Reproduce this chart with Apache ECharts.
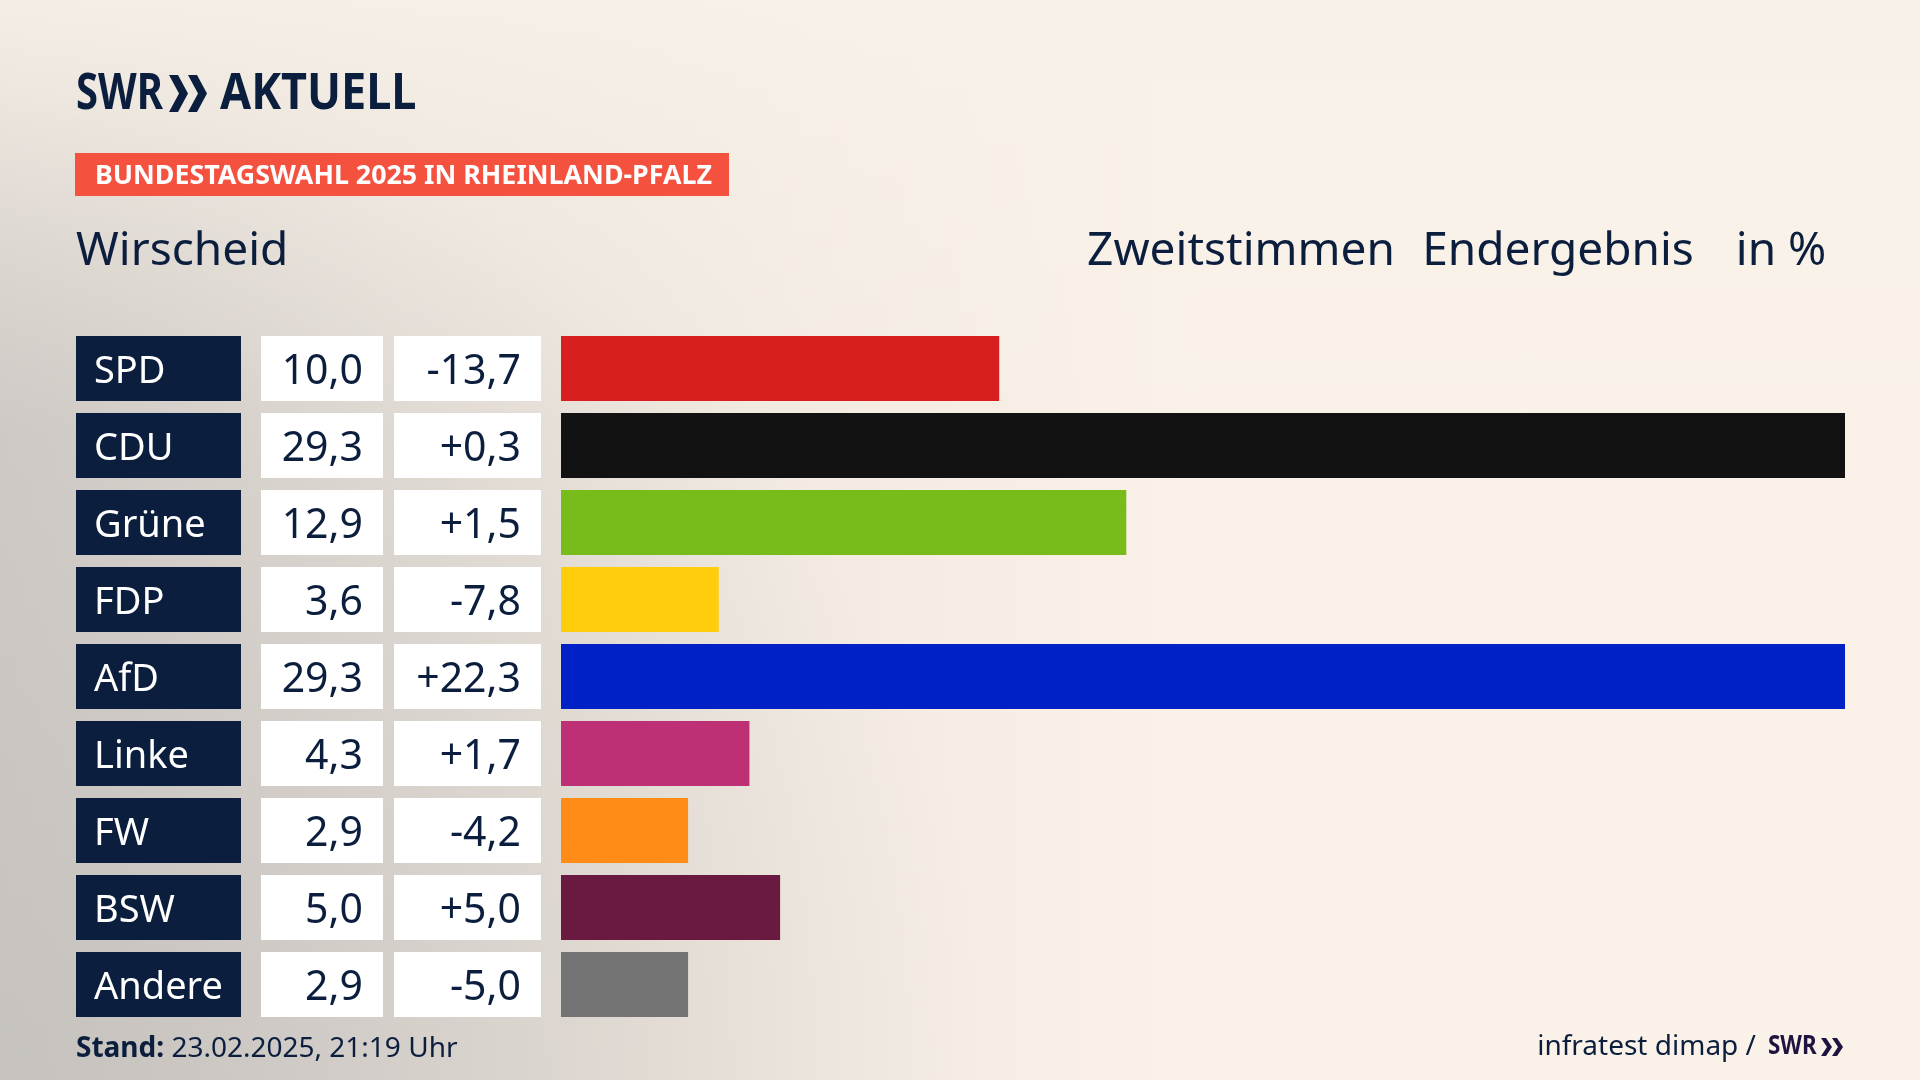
<!DOCTYPE html>
<html>
<head>
<meta charset="utf-8">
<script src="https://cdn.jsdelivr.net/npm/echarts@6/dist/echarts.min.js"></script>
<style>
html,body{margin:0;padding:0;width:1920px;height:1080px;overflow:hidden;}
body{
  background:
    radial-gradient(circle at 0% 100%, rgba(196,192,188,0.85) 0%, rgba(196,192,188,0) 45%),
    linear-gradient(to bottom, rgba(248,241,232,0.9) 0%, rgba(248,241,232,0) 40%),
    linear-gradient(to right, #d2cdc8 0%, #e4ded7 20%, #f3ebe1 42%, #faf2e8 62%, #faf2e8 100%);
}
#chart{width:1920px;height:1080px;}
</style>
</head>
<body>
<div id="chart"></div>
<script>
const parties = ['SPD', 'CDU', 'Grüne', 'FDP', 'AfD', 'Linke', 'FW', 'BSW', 'Andere'];
const shares = [10.0, 29.3, 12.9, 3.6, 29.3, 4.3, 2.9, 5.0, 2.9];
const changes = [-13.7, 0.3, 1.5, -7.8, 22.3, 1.7, -4.2, 5.0, -5.0];
const partyColors = ['#d71f1f', '#121212', '#78bc1b', '#ffcd0b', '#0021c6', '#bd3075', '#ff8c17', '#6a1941', '#737373'];

const NAVY = '#0c1e3e';
const FONT = 'Noto Sans';
const fmt = v => v.toFixed(1).replace('.', ',');
const fmtSigned = v => (v > 0 ? '+' : '') + fmt(v);

const chart = echarts.init(document.getElementById('chart'), null, {renderer: 'canvas'});

function catAxis(extra) {
  return Object.assign({
    type: 'category',
    data: parties,
    inverse: true,
    position: 'left',
    axisLine: {show: false},
    axisTick: {show: false},
    splitLine: {show: false}
  }, extra);
}

function chevrons(x, yTop, h, w, t, color) {
  const mk = (x0) => ({
    type: 'polygon',
    shape: {points: [[x0, yTop], [x0 + t, yTop], [x0 + w, yTop + h / 2], [x0 + t, yTop + h], [x0, yTop + h], [x0 + w - t, yTop + h / 2]]},
    style: {fill: color}
  });
  return [mk(x), mk(x + w)];
}

// cell text is wrapped in a rich token so it can sit slightly lower in its box
const cell = (txt) => '{t|' + txt + '}';
const cellRich = (size, color) => ({t: {fontSize: size, fontFamily: FONT, color: color, padding: [7, 0, 0, 0]}});

const option = {
  animation: false,
  grid: {left: 561, top: 330, width: 1284, height: 693, containLabel: false},
  xAxis: {type: 'value', min: 0, max: Math.max(...shares), show: false},
  yAxis: [
    catAxis({
      axisLabel: {
        interval: 0, margin: 485, align: 'left',
        formatter: v => cell(v),
        rich: cellRich(38, '#ffffff'),
        color: '#ffffff', fontSize: 38, fontFamily: FONT,
        backgroundColor: NAVY, width: 147, height: 65, lineHeight: 65,
        padding: [0, 0, 0, 18]
      }
    }),
    catAxis({
      axisLabel: {
        interval: 0, margin: 178, align: 'right',
        formatter: (v, i) => cell(fmt(shares[i])),
        rich: cellRich(41, NAVY),
        color: NAVY, fontSize: 41, fontFamily: FONT,
        backgroundColor: '#ffffff', width: 102, height: 65, lineHeight: 65,
        padding: [0, 20, 0, 0]
      }
    }),
    catAxis({
      axisLabel: {
        interval: 0, margin: 20, align: 'right',
        formatter: (v, i) => cell(fmtSigned(changes[i])),
        rich: cellRich(41, NAVY),
        color: NAVY, fontSize: 41, fontFamily: FONT,
        backgroundColor: '#ffffff', width: 127, height: 65, lineHeight: 65,
        padding: [0, 20, 0, 0]
      }
    })
  ],
  series: [{
    type: 'bar',
    yAxisIndex: 0,
    barWidth: 65,
    silent: true,
    data: shares.map((v, i) => ({value: v, itemStyle: {color: partyColors[i]}}))
  }],
  graphic: [
    // logo
    {type: 'text', x: 76, y: 95, scaleX: 0.8, style: {text: 'SWR', fontFamily: FONT, fontWeight: 'bold', fontSize: 50, fill: NAVY, textAlign: 'left', textVerticalAlign: 'middle'}},
    ...chevrons(169, 75, 37, 19, 9, NAVY),
    {type: 'text', x: 220, y: 95, scaleX: 0.9, style: {text: 'AKTUELL', fontFamily: FONT, fontWeight: 'bold', fontSize: 50, fill: NAVY, textAlign: 'left', textVerticalAlign: 'middle'}},
    // banner
    {type: 'rect', shape: {x: 75, y: 153, width: 654, height: 43}, style: {fill: '#f4513f'}},
    {type: 'text', x: 95, y: 176, style: {text: 'BUNDESTAGSWAHL 2025 IN RHEINLAND-PFALZ', fontFamily: FONT, fontWeight: 'bold', fontSize: 26.8, fill: '#ffffff', textAlign: 'left', textVerticalAlign: 'middle'}},
    // headings
    {type: 'text', x: 76, y: 252, style: {text: 'Wirscheid', fontFamily: FONT, fontSize: 46, fill: NAVY, textAlign: 'left', textVerticalAlign: 'middle'}},
    {type: 'text', x: 1241, y: 252, style: {text: 'Zweitstimmen', fontFamily: FONT, fontSize: 46, fill: NAVY, textAlign: 'center', textVerticalAlign: 'middle'}},
    {type: 'text', x: 1558, y: 252, style: {text: 'Endergebnis', fontFamily: FONT, fontSize: 46, fill: NAVY, textAlign: 'center', textVerticalAlign: 'middle'}},
    {type: 'text', x: 1781, y: 252, style: {text: 'in %', fontFamily: FONT, fontSize: 46, fill: NAVY, textAlign: 'center', textVerticalAlign: 'middle'}},
    // footer
    {type: 'text', x: 76, y: 1049, style: {
      text: '{b|Stand: }{r|23.02.2025, 21:19 Uhr}',
      textAlign: 'left', textVerticalAlign: 'middle',
      rich: {
        b: {fontFamily: FONT, fontWeight: 'bold', fontSize: 28, fill: NAVY, color: NAVY},
        r: {fontFamily: FONT, fontSize: 28, fill: NAVY, color: NAVY}
      }
    }},
    {type: 'text', x: 1756, y: 1047, style: {text: 'infratest dimap /', fontFamily: FONT, fontSize: 28, fill: NAVY, textAlign: 'right', textVerticalAlign: 'middle'}},
    {type: 'text', x: 1768, y: 1047, scaleX: 0.86, style: {text: 'SWR', fontFamily: FONT, fontWeight: 'bold', fontSize: 26, fill: '#1f1440', textAlign: 'left', textVerticalAlign: 'middle'}},
    ...chevrons(1821, 1038, 18, 11, 5, '#1f1440')
  ]
};
chart.setOption(option);
</script>
</body>
</html>
